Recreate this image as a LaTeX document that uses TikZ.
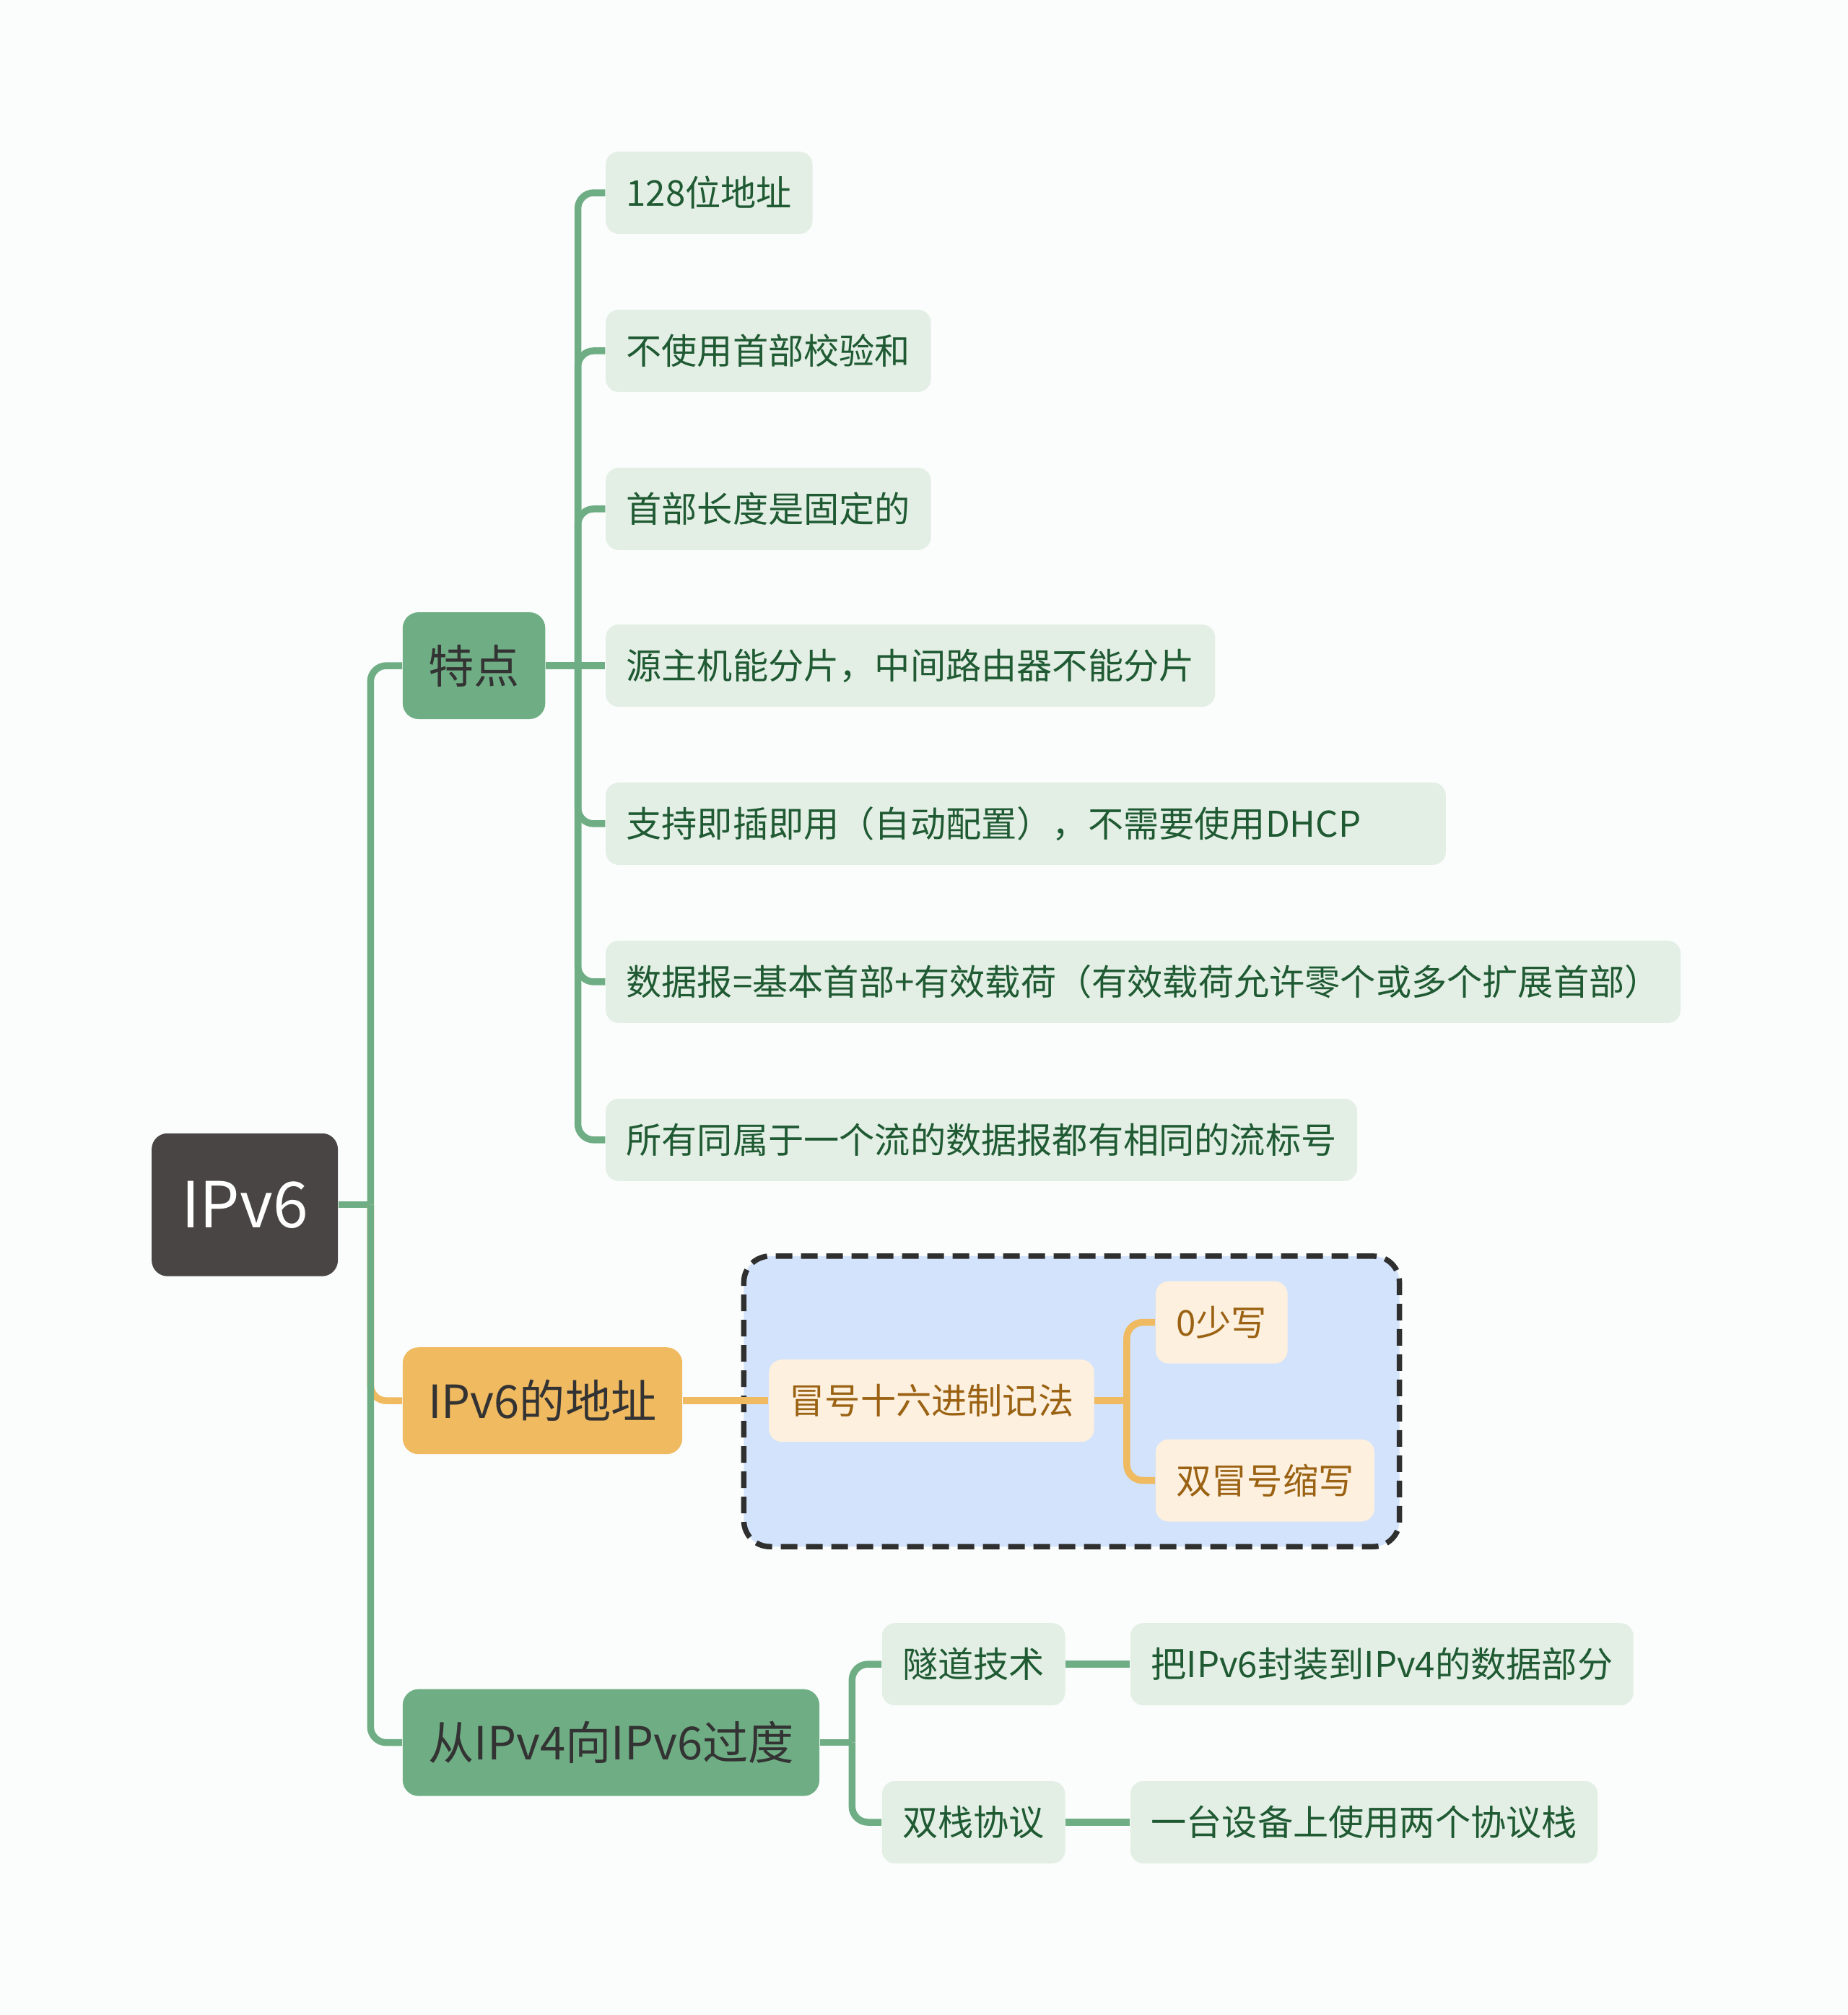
\documentclass[tikz,border=0pt]{standalone}
\usepackage{fontspec}
\setmainfont{Noto Sans CJK SC}
\usetikzlibrary{positioning,fit,backgrounds}
\definecolor{paper}{HTML}{FBFDFD}
\definecolor{rootgray}{HTML}{4A4545}
\definecolor{topgreen}{HTML}{6FAE84}
\definecolor{leafgreen}{HTML}{E3EFE5}
\definecolor{textgreen}{HTML}{1F5A33}
\definecolor{toporange}{HTML}{F0BA60}
\definecolor{leaforange}{HTML}{FDF0DF}
\definecolor{textbrown}{HTML}{9A6212}
\definecolor{boxblue}{HTML}{D2E3FB}
\definecolor{dashgray}{HTML}{2F2F2F}

\begin{document}
\begin{tikzpicture}[
  x=0.17803mm, y=-0.17803mm,
  rootbox/.style={rectangle, fill=rootgray, rounded corners=2.2mm, minimum width=25.8mm, minimum height=19.8mm, text=white, font=\fontsize{25}{30}\selectfont},
  topic/.style={rectangle, anchor=west, rounded corners=2.2mm, minimum height=14.8mm, inner xsep=3.55mm, text=black!80, font=\fontsize{18}{22}\selectfont},
  leaf/.style={rectangle, anchor=west, fill=leafgreen, rounded corners=1.8mm, minimum height=11.4mm, inner xsep=2.85mm, inner ysep=0pt, text=textgreen, font=\fontsize{14}{17}\selectfont},
  oleaf/.style={leaf, fill=leaforange, text=textbrown},
  gline/.style={draw=topgreen, line width=0.95mm, rounded corners=2.2mm},
  oline/.style={gline, draw=toporange}
]
  % root and main branches
  \node[rootbox] (ipv6) at (190.5,937.5) {IPv6};
  \node[topic, fill=topgreen] (feat) at (313,518) {特点};
  \node[topic, fill=toporange] (addr) at (313,1090) {IPv6的地址};
  \node[topic, fill=topgreen] (trans) at (313,1356) {从IPv4向IPv6过度};

  % features
  \node[leaf] (f1) at (471,150) {128位地址};
  \node[leaf] (f2) at (471,273) {不使用首部校验和};
  \node[leaf] (f3) at (471,396) {首部长度是固定的};
  \node[leaf] (f4) at (471,518) {源主机能分片，中间路由器不能分片};
  \node[leaf, text width=110.7mm, align=left] (f5) at (471,641) {支持即插即用（自动配置），不需要使用DHCP};
  \node[leaf] (f6) at (471,764) {数据报=基本首部+有效载荷（有效载荷允许零个或多个扩展首部）};
  \node[leaf] (f7) at (471,887) {所有同属于一个流的数据报都有相同的流标号};

  % address notation
  \node[oleaf] (colon) at (598,1090) {冒号十六进制记法};
  \node[oleaf] (zero) at (899,1029) {0少写};
  \node[oleaf] (dcolon) at (899,1152) {双冒号缩写};

  % transition
  \node[leaf] (tunnel) at (686,1295) {隧道技术};
  \node[leaf] (dual) at (686,1418) {双栈协议};
  \node[leaf, right=8.9mm of tunnel] (tunneldesc) {把IPv6封装到IPv4的数据部分};
  \node[leaf, right=8.9mm of dual] (dualdesc) {一台设备上使用两个协议栈};

  \begin{scope}[on background layer]
    \fill[paper] (0,0) rectangle (1438,1568);
    \node[fit=(colon)(zero)(dcolon), inner sep=3.4mm, fill=boxblue, draw=dashgray, line width=0.75mm, dash pattern=on 2.3mm off 1.2mm, rounded corners=3.6mm] (grp) {};
  \end{scope}

  % connectors
  \draw[gline] (ipv6.east) -- ++(25,0) coordinate (rootj);
  \draw[oline] (rootj) |- (addr.west);
  \foreach \t in {feat,trans}
    \draw[gline] (rootj) |- (\t.west);

  \draw[gline] (feat.east) -- ++(25,0) coordinate (featj);
  \foreach \l in {f1,f2,f3,f5,f6,f7}
    \draw[gline] (featj) |- (\l.west);
  \draw[gline] (feat.east) -- (f4.west);

  \draw[oline] (addr.east) -- (colon.west);
  \draw[oline] (colon.east) -- ++(25,0) coordinate (colonj);
  \foreach \l in {zero,dcolon}
    \draw[oline] (colonj) |- (\l.west);

  \draw[gline] (trans.east) -- ++(25,0) coordinate (transj);
  \foreach \l in {tunnel,dual}
    \draw[gline] (transj) |- (\l.west);
  \draw[gline] (tunnel) -- (tunneldesc);
  \draw[gline] (dual) -- (dualdesc);
\end{tikzpicture}
\end{document}
